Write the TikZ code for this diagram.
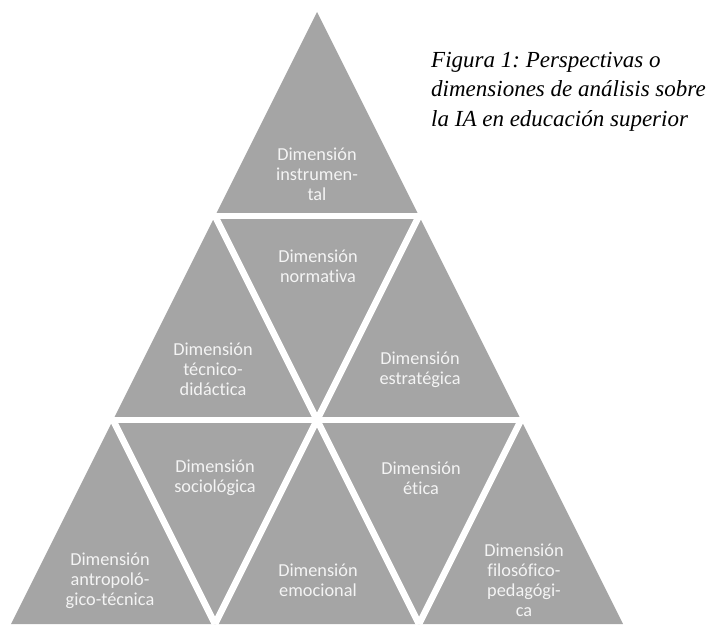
\documentclass[tikz,border=0pt]{standalone}
\usepackage{fontspec}
\newfontfamily\labelfont[Ligatures=NoCommon]{Carlito}
\newfontfamily\titlefont{Liberation Serif}
\definecolor{pyrgray}{HTML}{A5A5A5}
\definecolor{labeltext}{HTML}{F4F4F4}
\tikzset{
  dimlabel/.style={text=labeltext, align=center, inner sep=0pt,
    font=\labelfont\fontsize{18.3}{20}\selectfont},
  gapline/.style={draw=white, line width=6.5pt},
  titletext/.style={align=left, inner sep=0pt, anchor=north west,
    font=\titlefont\itshape\frenchspacing\fontsize{23}{29.5}\selectfont}
}
\begin{document}
\begin{tikzpicture}[x=1pt,y=-1pt]
\useasboundingbox (0,0) rectangle (709,626);
% grid points
\coordinate (apex) at (317,12);
\coordinate (bl) at (11,624);
\coordinate (br) at (623,624);
\coordinate (l1) at (215,216);
\coordinate (r1) at (419,216);
\coordinate (l2) at (113,420);
\coordinate (m2) at (317,420);
\coordinate (r2) at (521,420);
\coordinate (b1) at (215,624);
\coordinate (b2) at (419,624);
% pyramid
\fill[pyrgray] (apex) -- (br) -- (bl) -- cycle;
% white separations
\draw[gapline] ([xshift=-4pt]l1) -- ([xshift=4pt]r1);
\draw[gapline] ([xshift=-4pt]l2) -- ([xshift=4pt]r2);
\draw[gapline] (l1) -- (b2);
\draw[gapline] (r1) -- (b1);
\draw[gapline] (l2) -- (b1);
\draw[gapline] (r2) -- (b2);
% labels
\node[dimlabel] (instr) at (317,174) {Dimensión\\instrumen-\\tal};
\node[dimlabel] (norm) at (318,266) {Dimensión\\normativa};
\node[dimlabel] (tecn) at (213,369) {Dimensión\\técnico-\\didáctica};
\node[dimlabel] (estr) at (420,370) {Dimensión\\estratégica};
\node[dimlabel] (socio) at (215,478) {Dimensión\\sociológica};
\node[dimlabel] (etica) at (421,478) {Dimensión\\ética};
\node[dimlabel] (antro) at (110,581) {Dimensión\\antropoló-\\gico-técnica};
\node[dimlabel] (emoc) at (318,580) {Dimensión\\emocional};
\node[dimlabel] (filo) at (524,580) {Dimensión\\filosófico-\\pedagógi-\\ca};
% title
\node[titletext] (title) at (431,52) {Figura 1: Perspectivas o\\dimensiones de análisis sobre\\la IA en educación superior};
\end{tikzpicture}
\end{document}
